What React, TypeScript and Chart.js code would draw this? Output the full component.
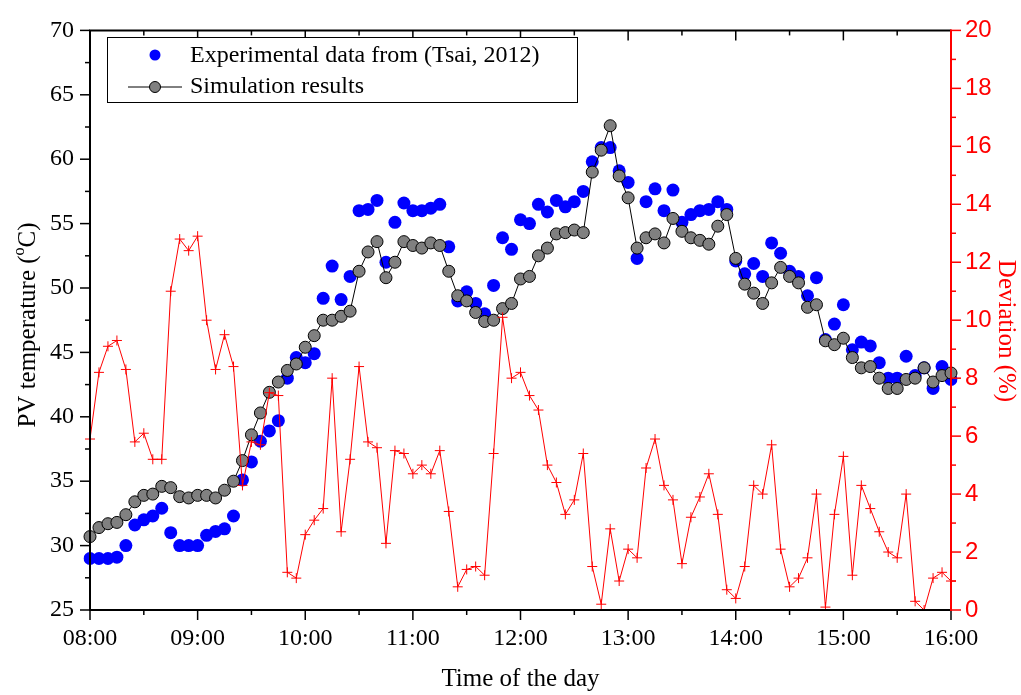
import React, { useEffect, useRef } from "react";
import { Chart, registerables } from "chart.js";

Chart.register(...registerables);

const timeLabels = [
  "08:00", "08:05", "08:10", "08:15", "08:20", "08:25", "08:30", "08:35", "08:40", "08:45", "08:50", "08:55",
  "09:00", "09:05", "09:10", "09:15", "09:20", "09:25", "09:30", "09:35", "09:40", "09:45", "09:50", "09:55",
  "10:00", "10:05", "10:10", "10:15", "10:20", "10:25", "10:30", "10:35", "10:40", "10:45", "10:50", "10:55",
  "11:00", "11:05", "11:10", "11:15", "11:20", "11:25", "11:30", "11:35", "11:40", "11:45", "11:50", "11:55",
  "12:00", "12:05", "12:10", "12:15", "12:20", "12:25", "12:30", "12:35", "12:40", "12:45", "12:50", "12:55",
  "13:00", "13:05", "13:10", "13:15", "13:20", "13:25", "13:30", "13:35", "13:40", "13:45", "13:50", "13:55",
  "14:00", "14:05", "14:10", "14:15", "14:20", "14:25", "14:30", "14:35", "14:40", "14:45", "14:50", "14:55",
  "15:00", "15:05", "15:10", "15:15", "15:20", "15:25", "15:30", "15:35", "15:40", "15:45", "15:50", "15:55",
  "16:00",
];

const hourLabels = ["08:00", "09:00", "10:00", "11:00", "12:00", "13:00", "14:00", "15:00", "16:00"];
const halfHourLabels = ["08:30", "09:30", "10:30", "11:30", "12:30", "13:30", "14:30", "15:30"];

const experimental = [
  29.0, 29.0, 29.0, 29.1, 30.0, 31.6, 32.0, 32.3, 32.9, 31.0, 30.0, 30.0,
  30.0, 30.8, 31.1, 31.3, 32.3, 35.1, 36.5, 38.1, 38.9, 39.7, 43.0, 44.6,
  44.2, 44.9, 49.2, 51.7, 49.1, 50.9, 56.0, 56.1, 56.8, 52.0, 55.1, 56.6,
  56.0, 56.0, 56.2, 56.5, 53.2, 49.0, 49.7, 48.8, 48.0, 50.2, 53.9, 53.0,
  55.3, 55.0, 56.5, 55.9, 56.8, 56.3, 56.7, 57.5, 59.8, 60.9, 60.9, 59.1,
  58.2, 52.3, 56.7, 57.7, 56.0, 57.6, 55.1, 55.7, 56.0, 56.1, 56.7, 56.1,
  52.1, 51.1, 51.9, 50.9, 53.5, 52.7, 51.3, 50.9, 49.4, 50.8, 46.0, 47.2,
  48.7, 45.2, 45.8, 45.5, 44.2, 43.0, 43.0, 44.7, 43.2, 43.8, 42.2, 43.9,
  42.9,
];

const simulation = [
  30.7, 31.4, 31.7, 31.8, 32.4, 33.4, 33.9, 34.0, 34.6, 34.5, 33.8, 33.7,
  33.9, 33.9, 33.7, 34.3, 35.0, 36.6, 38.6, 40.3, 41.9, 42.7, 43.6, 44.1,
  45.4, 46.3, 47.5, 47.5, 47.8, 48.2, 51.3, 52.8, 53.6, 50.8, 52.0, 53.6,
  53.3, 53.1, 53.5, 53.3, 51.3, 49.4, 49.0, 48.1, 47.4, 47.5, 48.4, 48.8,
  50.7, 50.9, 52.5, 53.1, 54.2, 54.3, 54.5, 54.3, 59.0, 60.7, 62.6, 58.7,
  57.0, 53.1, 53.9, 54.2, 53.5, 55.4, 54.4, 53.9, 53.7, 53.4, 54.8, 55.7,
  52.3, 50.3, 49.6, 48.8, 50.4, 51.6, 50.9, 50.4, 48.5, 48.7, 45.9, 45.6,
  46.1, 44.6, 43.8, 43.9, 43.0, 42.2, 42.2, 42.9, 43.0, 43.8, 42.7, 43.2,
  43.4,
];

const deviation = [
  5.9, 8.2, 9.1, 9.3, 8.3, 5.8, 6.1, 5.2, 5.2, 11.0, 12.8, 12.4,
  12.9, 10.0, 8.3, 9.5, 8.4, 4.3, 5.8, 5.7, 7.5, 7.4, 1.3, 1.1,
  2.6, 3.1, 3.5, 8.0, 2.7, 5.2, 8.4, 5.8, 5.6, 2.3, 5.5, 5.4,
  4.7, 5.0, 4.7, 5.5, 3.4, 0.8, 1.4, 1.5, 1.2, 5.4, 10.1, 8.0,
  8.2, 7.4, 6.9, 5.0, 4.4, 3.3, 3.8, 5.4, 1.5, 0.2, 2.8, 1.0,
  2.1, 1.8, 4.9, 5.9, 4.3, 3.8, 1.6, 3.2, 3.9, 4.7, 3.3, 0.7,
  0.4, 1.5, 4.3, 4.0, 5.7, 2.1, 0.8, 1.1, 1.8, 4.0, 0.1, 3.3,
  5.3, 1.2, 4.3, 3.5, 2.7, 2.0, 1.8, 4.0, 0.3, 0.0, 1.1, 1.3,
  1.0,
];

const SERIF = '"Liberation Serif", "Times New Roman", serif';
const SANS = '"Liberation Sans", Arial, sans-serif';

const bgPlugin = {
  id: "bg",
  beforeDraw(chart: any) {
    const ctx = chart.ctx;
    ctx.save();
    ctx.fillStyle = "#ffffff";
    ctx.fillRect(0, 0, chart.width, chart.height);
    ctx.restore();
  },
};

function seg(ctx: any, x1: number, y1: number, x2: number, y2: number) {
  ctx.beginPath();
  ctx.moveTo(x1, y1);
  ctx.lineTo(x2, y2);
  ctx.stroke();
}

const framePlugin = {
  id: "frame",
  afterDraw(chart: any) {
    const ctx = chart.ctx;
    const { left, right, top, bottom } = chart.chartArea;
    const xs = chart.scales.x;
    const ys = chart.scales.y;
    const ys2 = chart.scales.y2;
    ctx.save();

    // ticks
    ctx.lineWidth = 1.5;
    ctx.strokeStyle = "#000";
    for (let v = 25; v <= 70; v += 2.5) {
      const py = ys.getPixelForValue(v);
      const len = v % 5 === 0 ? 10 : 5;
      seg(ctx, left - len, py, left, py);
    }
    hourLabels.forEach((l) => {
      const px = xs.getPixelForValue(timeLabels.indexOf(l));
      seg(ctx, px, bottom, px, bottom + 10);
      seg(ctx, px, top, px, top + 10);
    });
    halfHourLabels.forEach((l) => {
      const px = xs.getPixelForValue(timeLabels.indexOf(l));
      seg(ctx, px, bottom, px, bottom + 5);
      seg(ctx, px, top, px, top + 5);
    });
    ctx.strokeStyle = "#ff0000";
    for (let v = 0; v <= 20; v += 1) {
      const py = ys2.getPixelForValue(v);
      const len = v % 2 === 0 ? 10 : 5;
      seg(ctx, right, py, right + len, py);
    }

    // frame
    ctx.lineWidth = 2;
    ctx.strokeStyle = "#000";
    ctx.beginPath();
    ctx.moveTo(right, top);
    ctx.lineTo(left, top);
    ctx.lineTo(left, bottom);
    ctx.lineTo(right, bottom);
    ctx.stroke();
    ctx.strokeStyle = "#ff0000";
    seg(ctx, right, top - 1, right, bottom + 1);

    // axis titles
    ctx.fillStyle = "#000";
    ctx.textBaseline = "middle";
    ctx.textAlign = "center";
    ctx.font = `25px ${SERIF}`;
    ctx.fillText("Time of the day", (left + right) / 2, 679);

    // left title with superscript
    const p1 = "PV temperature (";
    const sup = "o";
    const p2 = "C)";
    ctx.save();
    ctx.translate(28, 325);
    ctx.rotate(-Math.PI / 2);
    ctx.font = `25px ${SERIF}`;
    const w1 = ctx.measureText(p1).width;
    const w3 = ctx.measureText(p2).width;
    ctx.font = `16px ${SERIF}`;
    const w2 = ctx.measureText(sup).width;
    const total = w1 + w2 + w3;
    let cx = -total / 2;
    ctx.textAlign = "left";
    ctx.font = `25px ${SERIF}`;
    ctx.fillText(p1, cx, 0);
    cx += w1;
    ctx.font = `16px ${SERIF}`;
    ctx.fillText(sup, cx, -8);
    cx += w2;
    ctx.font = `25px ${SERIF}`;
    ctx.fillText(p2, cx, 0);
    ctx.restore();

    // right title
    ctx.save();
    ctx.translate(1006, 331);
    ctx.rotate(Math.PI / 2);
    ctx.fillStyle = "#ff0000";
    ctx.textAlign = "center";
    ctx.font = `25px ${SERIF}`;
    ctx.fillText("Deviation (%)", 0, 0);
    ctx.restore();

    // legend
    ctx.fillStyle = "#fff";
    ctx.fillRect(107, 37, 471, 65);
    ctx.lineWidth = 1;
    ctx.strokeStyle = "#000";
    ctx.strokeRect(107.5, 37.5, 470, 65);

    ctx.fillStyle = "#0000ff";
    ctx.beginPath();
    ctx.arc(155, 55, 5.5, 0, Math.PI * 2);
    ctx.fill();

    ctx.strokeStyle = "#000";
    ctx.lineWidth = 1;
    seg(ctx, 128, 87, 182, 87);
    ctx.beginPath();
    ctx.arc(155, 87, 5.5, 0, Math.PI * 2);
    ctx.fillStyle = "#808080";
    ctx.fill();
    ctx.stroke();

    ctx.fillStyle = "#000";
    ctx.textAlign = "left";
    ctx.font = `24px ${SERIF}`;
    ctx.fillText("Experimental data from (Tsai, 2012)", 190, 56);
    ctx.fillText("Simulation results", 190, 87);

    ctx.restore();
  },
};

export default function App() {
  const ref = useRef<HTMLCanvasElement | null>(null);

  useEffect(() => {
    if (!ref.current) return;
    const chart = new Chart(ref.current, {
      type: "line",
      data: {
        labels: timeLabels,
        datasets: [
          {
            label: "Deviation (%)",
            data: deviation,
            yAxisID: "y2",
            order: 0,
            borderColor: "#ff0000",
            borderWidth: 1,
            pointStyle: "cross",
            pointRadius: 5,
            pointBorderColor: "#ff0000",
            pointBorderWidth: 1,
            pointBackgroundColor: "#ff0000",
            tension: 0,
            fill: false,
          },
          {
            label: "Simulation results",
            data: simulation,
            yAxisID: "y",
            order: 1,
            borderColor: "#000000",
            borderWidth: 1,
            pointStyle: "circle",
            pointRadius: 6,
            pointBackgroundColor: "#808080",
            pointBorderColor: "#000000",
            pointBorderWidth: 1,
            tension: 0,
            fill: false,
          },
          {
            label: "Experimental data from (Tsai, 2012)",
            data: experimental,
            yAxisID: "y",
            order: 2,
            showLine: false,
            borderColor: "#0000ff",
            pointStyle: "circle",
            pointRadius: 6.5,
            pointBackgroundColor: "#0000ff",
            pointBorderColor: "#0000ff",
            pointBorderWidth: 0,
          },
        ],
      },
      options: {
        animation: false,
        responsive: false,
        devicePixelRatio: 1,
        events: [],
        layout: { padding: { top: 16, left: 0, right: 0, bottom: 0 } },
        plugins: {
          legend: { display: false },
          tooltip: { enabled: false },
          title: { display: false },
        },
        scales: {
          x: {
            type: "category",
            grid: { display: false, drawTicks: false },
            border: { display: false },
            afterBuildTicks: (scale: any) => {
              scale.ticks = scale.ticks.filter((t: any) =>
                hourLabels.includes(timeLabels[t.value])
              );
            },
            afterFit: (scale: any) => {
              scale.height = 85;
            },
            ticks: {
              autoSkip: false,
              maxRotation: 0,
              minRotation: 0,
              padding: 14,
              color: "#000",
              font: { family: SERIF, size: 24 },
            },
          },
          y: {
            position: "left",
            min: 25,
            max: 70,
            grid: { display: false, drawTicks: false },
            border: { display: false },
            afterFit: (scale: any) => {
              scale.width = 90;
            },
            ticks: {
              stepSize: 5,
              padding: 16,
              color: "#000",
              font: { family: SERIF, size: 24 },
            },
          },
          y2: {
            position: "right",
            min: 0,
            max: 20,
            grid: { display: false, drawTicks: false },
            border: { display: false },
            afterFit: (scale: any) => {
              scale.width = 70;
            },
            ticks: {
              stepSize: 2,
              padding: 14,
              color: "#ff0000",
              font: { family: SANS, size: 24 },
            },
          },
        },
      },
      plugins: [bgPlugin, framePlugin],
    });
    return () => chart.destroy();
  }, []);

  return (
    <div style={{ position: "absolute", left: 0, top: 0, width: 1021, height: 695 }}>
      <canvas ref={ref} width={1021} height={695} style={{ display: "block" }} />
    </div>
  );
}
